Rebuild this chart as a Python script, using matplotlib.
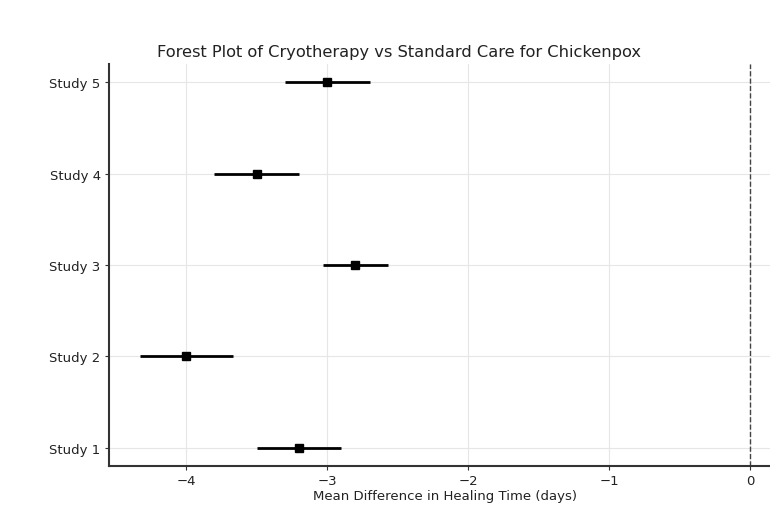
import matplotlib
matplotlib.use("Agg")
import matplotlib.pyplot as plt

studies = ["Study 1", "Study 2", "Study 3", "Study 4", "Study 5"]
mean_diff = [-3.2, -4.0, -2.8, -3.5, -3.0]
ci_lower = [-3.5, -4.33, -3.03, -3.8, -3.3]
ci_upper = [-2.9, -3.67, -2.57, -3.2, -2.7]

fig = plt.figure(figsize=(7.7, 5.06), dpi=100)
ax = fig.add_axes([109/770, 1 - 467/506, (781 - 109)/770, (467 - 65)/506])

ypos = list(range(1, len(studies) + 1))
xerr = [[m - lo for m, lo in zip(mean_diff, ci_lower)],
        [hi - m for m, hi in zip(mean_diff, ci_upper)]]
ax.errorbar(mean_diff, ypos, xerr=xerr, fmt='s', color='black', ecolor='black',
            elinewidth=2, markersize=5.5, capsize=0, zorder=3)
ax.axvline(0, color='#444444', linestyle='--', linewidth=1)

ax.set_yticks(ypos)
ax.set_yticklabels(studies)
ax.set_xticks([-4, -3, -2, -1, 0])
ax.set_xticklabels(["\u22124", "\u22123", "\u22122", "\u22121", "0"])
ax.grid(True, color='#e6e6e6', linewidth=0.8)
ax.set_axisbelow(True)
for s in ['top', 'right']:
    ax.spines[s].set_visible(False)
for s in ['left', 'bottom']:
    ax.spines[s].set_color('#333333')
    ax.spines[s].set_linewidth(1.5)
ax.tick_params(colors='#333333', labelcolor='#222222', labelsize=9.5, length=3, pad=3)
ax.set_xlabel("Mean Difference in Healing Time (days)", fontsize=9.5, color='#222222', labelpad=1)
fig.text(399/770, 1 - 53/506, "Forest Plot of Cryotherapy vs Standard Care for Chickenpox",
         ha='center', va='center', fontsize=11.7, color='#222222')

fig.savefig("out.png", dpi=100)
